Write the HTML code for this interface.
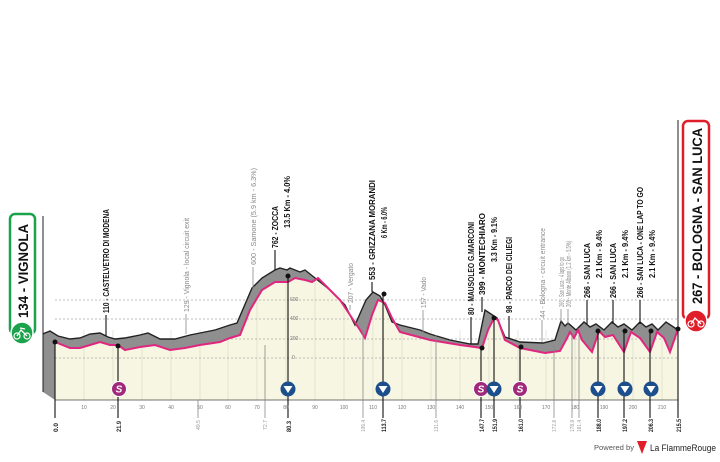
<!DOCTYPE html>
<html><head><meta charset="utf-8"><style>
body{margin:0;background:#fff;}
svg text{font-family:"Liberation Sans Narrow","Liberation Sans",sans-serif;}
</style></head><body>
<svg width="720" height="457" viewBox="0 0 720 457" xmlns="http://www.w3.org/2000/svg">
<path d="M55,342 L70,348 L80,348 L90,345 L100,342 L110,345 L118,345 L125,350 L140,347 L155,345 L170,350 L185,348 L200,345 L220,342 L230,338 L240,335 L250,310 L262,290 L275,282 L288,282 L295,278 L305,280 L312,282 L318,278 L325,285 L340,300 L350,315 L360,330 L365,338 L372,315 L378,300 L385,303 L392,318 L400,332 L430,340 L460,345 L482,348 L488,330 L494,318 L498,320 L505,340 L520,348 L545,353 L560,351 L566,340 L570,332 L574,338 L578,330 L582,340 L592,352 L599,331 L605,337 L613,335 L624,352 L631,332 L640,338 L650,352 L657,332 L664,338 L670,352 L678,329 L678,400 L55,400 Z" fill="#f6f6e2"/>
<g stroke="#d8d8c8" stroke-width="0.6">
<line x1="84" y1="330" x2="84" y2="400"/><line x1="113" y1="330" x2="113" y2="400"/><line x1="142" y1="330" x2="142" y2="400"/><line x1="171" y1="330" x2="171" y2="400"/><line x1="200" y1="330" x2="200" y2="400"/><line x1="228" y1="330" x2="228" y2="400"/><line x1="257" y1="300" x2="257" y2="400"/><line x1="286" y1="280" x2="286" y2="400"/><line x1="315" y1="280" x2="315" y2="400"/><line x1="344" y1="300" x2="344" y2="400"/><line x1="373" y1="300" x2="373" y2="400"/><line x1="402" y1="330" x2="402" y2="400"/><line x1="431" y1="330" x2="431" y2="400"/><line x1="460" y1="330" x2="460" y2="400"/><line x1="489" y1="330" x2="489" y2="400"/><line x1="518" y1="330" x2="518" y2="400"/><line x1="546" y1="330" x2="546" y2="400"/><line x1="575" y1="330" x2="575" y2="400"/><line x1="604" y1="330" x2="604" y2="400"/><line x1="633" y1="330" x2="633" y2="400"/><line x1="662" y1="330" x2="662" y2="400"/>
</g>
<g stroke="#aaa" stroke-width="0.7" stroke-dasharray="2,2">
<line x1="55" y1="300" x2="678" y2="300"/><line x1="55" y1="319" x2="678" y2="319"/><line x1="55" y1="339" x2="678" y2="339"/><line x1="55" y1="358" x2="678" y2="358"/>
</g>
<g font-size="5" fill="#777"><text x="290" y="301">600</text><text x="290" y="320">400</text><text x="290" y="340">200</text><text x="292" y="359">0</text></g>
<path d="M45,333 L50,331 L58,336 L70,339 L80,338 L90,334 L100,333 L108,337 L115,339 L125,338 L140,335 L148,333 L160,339 L175,339 L190,335 L200,333 L215,330 L230,325 L237,323 L252,288 L262,278 L275,270 L280,268 L287,270 L290,268 L300,272 L305,270 L315,278 L330,290 L345,305 L355,325 L366,300 L373,292 L380,296 L385,305 L392,322 L400,325 L420,330 L430,334 L450,340 L470,344 L478,344 L485,310 L497,318 L505,337 L520,342 L543,343 L555,340 L561,321 L565,326 L568,323 L576,330 L584,322 L590,327 L596,324 L604,330 L612,322 L618,327 L624,324 L632,330 L640,322 L646,327 L652,324 L658,330 L666,322 L678,330 L678,329 L670,352 L664,338 L657,332 L650,352 L640,338 L631,332 L624,352 L613,335 L605,337 L599,331 L592,352 L582,340 L578,330 L574,338 L570,332 L566,340 L560,351 L545,353 L520,348 L505,340 L498,320 L494,318 L488,330 L482,348 L460,345 L430,340 L400,332 L392,318 L385,303 L378,300 L372,315 L365,338 L360,330 L350,315 L340,300 L325,285 L318,278 L312,282 L305,280 L295,278 L288,282 L275,282 L262,290 L250,310 L240,335 L230,338 L220,342 L200,345 L185,348 L170,350 L155,345 L140,347 L125,350 L118,345 L110,345 L100,342 L90,345 L80,348 L70,348 L55,342 L55,400 L43,392 L43,334 Z" fill="#8f8f8f"/>
<path d="M43,334 L45,333 L50,331 L58,336 L70,339 L80,338 L90,334 L100,333 L108,337 L115,339 L125,338 L140,335 L148,333 L160,339 L175,339 L190,335 L200,333 L215,330 L230,325 L237,323 L252,288 L262,278 L275,270 L280,268 L287,270 L290,268 L300,272 L305,270 L315,278 L330,290 L345,305 L355,325 L366,300 L373,292 L380,296 L385,305 L392,322 L400,325 L420,330 L430,334 L450,340 L470,344 L478,344 L485,310 L497,318 L505,337 L520,342 L543,343 L555,340 L561,321 L565,326 L568,323 L576,330 L584,322 L590,327 L596,324 L604,330 L612,322 L618,327 L624,324 L632,330 L640,322 L646,327 L652,324 L658,330 L666,322 L678,330" fill="none" stroke="#222" stroke-width="1.4"/>
<path d="M55,342 L70,348 L80,348 L90,345 L100,342 L110,345 L118,345 L125,350 L140,347 L155,345 L170,350 L185,348 L200,345 L220,342 L230,338 L240,335 L250,310 L262,290 L275,282 L288,282 L295,278 L305,280 L312,282 L318,278 L325,285 L340,300 L350,315 L360,330 L365,338 L372,315 L378,300 L385,303 L392,318 L400,332 L430,340 L460,345 L482,348 L488,330 L494,318 L498,320 L505,340 L520,348 L545,353 L560,351 L566,340 L570,332 L574,338 L578,330 L582,340 L592,352 L599,331 L605,337 L613,335 L624,352 L631,332 L640,338 L650,352 L657,332 L664,338 L670,352 L678,329" fill="none" stroke="#e0267f" stroke-width="2"/>
<line x1="43" y1="216" x2="43" y2="392" stroke="#222" stroke-width="1"/>
<line x1="678" y1="120" x2="678" y2="330" stroke="#222" stroke-width="1"/>
<line x1="55" y1="400" x2="678" y2="400" stroke="#444" stroke-width="0.8"/>
<g stroke="#111" stroke-width="1.1">
<line x1="55" y1="342" x2="55" y2="418"/><line x1="118" y1="346" x2="118" y2="418"/><line x1="288" y1="276" x2="288" y2="418"/><line x1="383" y1="294" x2="383" y2="418"/><line x1="481" y1="348" x2="481" y2="418"/><line x1="494" y1="318" x2="494" y2="418"/><line x1="520" y1="347" x2="520" y2="418"/><line x1="598" y1="331" x2="598" y2="418"/><line x1="624" y1="331" x2="624" y2="418"/><line x1="650" y1="331" x2="650" y2="418"/><line x1="678" y1="329" x2="678" y2="418"/>
<line x1="106" y1="336" x2="106" y2="315"/><line x1="275" y1="270" x2="275" y2="250"/><line x1="372" y1="292" x2="372" y2="282"/><line x1="471" y1="344" x2="471" y2="317"/><line x1="482" y1="312" x2="482" y2="297"/><line x1="509" y1="339" x2="509" y2="316"/><line x1="587" y1="324" x2="587" y2="300"/><line x1="613" y1="324" x2="613" y2="300"/><line x1="640" y1="324" x2="640" y2="300"/>
</g>
<g stroke="#888" stroke-width="0.8">
<line x1="186" y1="334" x2="186" y2="314"/><line x1="253" y1="290" x2="253" y2="267"/><line x1="350" y1="310" x2="350" y2="305"/><line x1="423" y1="333" x2="423" y2="310"/><line x1="542" y1="342" x2="542" y2="320"/><line x1="561" y1="322" x2="561" y2="309"/><line x1="568" y1="324" x2="568" y2="309"/>
<line x1="198" y1="400" x2="198" y2="418"/><line x1="265" y1="345" x2="265" y2="418"/><line x1="363" y1="330" x2="363" y2="418"/><line x1="436" y1="335" x2="436" y2="418"/><line x1="554" y1="345" x2="554" y2="418"/><line x1="572" y1="335" x2="572" y2="418"/><line x1="579" y1="335" x2="579" y2="418"/>
</g>
<g fill="#111"><circle cx="55" cy="342" r="2.5"/><circle cx="118" cy="346" r="2.5"/><circle cx="288" cy="276" r="2.5"/><circle cx="384" cy="294" r="2.5"/><circle cx="482" cy="348" r="2.5"/><circle cx="494" cy="318" r="2.5"/><circle cx="521" cy="347" r="2.5"/><circle cx="598" cy="331" r="2.5"/><circle cx="625" cy="331" r="2.5"/><circle cx="651" cy="331" r="2.5"/><circle cx="678" cy="329" r="2.5"/></g>
<g>
<g transform="translate(119,389)"><circle r="7.5" fill="#a0297a" stroke="#fff" stroke-width="1"/><text y="3.5" text-anchor="middle" font-size="10" font-weight="bold" fill="#fff" font-style="italic">S</text></g>
<g transform="translate(481,389)"><circle r="7.5" fill="#a0297a" stroke="#fff" stroke-width="1"/><text y="3.5" text-anchor="middle" font-size="10" font-weight="bold" fill="#fff" font-style="italic">S</text></g>
<g transform="translate(520,389)"><circle r="7.5" fill="#a0297a" stroke="#fff" stroke-width="1"/><text y="3.5" text-anchor="middle" font-size="10" font-weight="bold" fill="#fff" font-style="italic">S</text></g>
</g>
<g fill="#1c4f8c">
<g transform="translate(288,389)"><circle r="7.5"/><path d="M-4.5,-3 L4.5,-3 L0,4 Z" fill="#fff"/></g>
<g transform="translate(383,389)"><circle r="7.5"/><path d="M-4.5,-3 L4.5,-3 L0,4 Z" fill="#fff"/></g>
<g transform="translate(494,389)"><circle r="7.5"/><path d="M-4.5,-3 L4.5,-3 L0,4 Z" fill="#fff"/></g>
<g transform="translate(598,389)"><circle r="7.5"/><path d="M-4.5,-3 L4.5,-3 L0,4 Z" fill="#fff"/></g>
<g transform="translate(625,389)"><circle r="7.5"/><path d="M-4.5,-3 L4.5,-3 L0,4 Z" fill="#fff"/></g>
<g transform="translate(651,389)"><circle r="7.5"/><path d="M-4.5,-3 L4.5,-3 L0,4 Z" fill="#fff"/></g>
</g>
<g font-size="5" fill="#777" text-anchor="middle">
<text x="84" y="409">10</text><text x="113" y="409">20</text><text x="142" y="409">30</text><text x="171" y="409">40</text><text x="200" y="409">50</text><text x="228" y="409">60</text><text x="257" y="409">70</text><text x="286" y="409">80</text><text x="315" y="409">90</text><text x="344" y="409">100</text><text x="373" y="409">110</text><text x="402" y="409">120</text><text x="431" y="409">130</text><text x="460" y="409">140</text><text x="489" y="409">150</text><text x="518" y="409">160</text><text x="546" y="409">170</text><text x="575" y="409">180</text><text x="604" y="409">190</text><text x="633" y="409">200</text><text x="662" y="409">210</text>
</g>
<g font-size="6.5" font-weight="bold" fill="#222">
<text transform="translate(58,432) rotate(-90)" textLength="9" lengthAdjust="spacingAndGlyphs">0.0</text>
<text transform="translate(121,432) rotate(-90)" textLength="11" lengthAdjust="spacingAndGlyphs">21.9</text>
<text transform="translate(291,432) rotate(-90)" textLength="11" lengthAdjust="spacingAndGlyphs">80.3</text>
<text transform="translate(386,432) rotate(-90)" textLength="13" lengthAdjust="spacingAndGlyphs">113.7</text>
<text transform="translate(484,432) rotate(-90)" textLength="13" lengthAdjust="spacingAndGlyphs">147.7</text>
<text transform="translate(497,432) rotate(-90)" textLength="13" lengthAdjust="spacingAndGlyphs">151.9</text>
<text transform="translate(523,432) rotate(-90)" textLength="13" lengthAdjust="spacingAndGlyphs">161.0</text>
<text transform="translate(601,432) rotate(-90)" textLength="13" lengthAdjust="spacingAndGlyphs">188.0</text>
<text transform="translate(627,432) rotate(-90)" textLength="13" lengthAdjust="spacingAndGlyphs">197.2</text>
<text transform="translate(653,432) rotate(-90)" textLength="13" lengthAdjust="spacingAndGlyphs">206.3</text>
<text transform="translate(681,432) rotate(-90)" textLength="13" lengthAdjust="spacingAndGlyphs">215.5</text>
</g>
<g font-size="5.5" fill="#999">
<text transform="translate(200,430) rotate(-90)" textLength="10" lengthAdjust="spacingAndGlyphs">49.5</text>
<text transform="translate(267,430) rotate(-90)" textLength="10" lengthAdjust="spacingAndGlyphs">72.7</text>
<text transform="translate(365,432) rotate(-90)" textLength="12" lengthAdjust="spacingAndGlyphs">106.4</text>
<text transform="translate(438,432) rotate(-90)" textLength="12" lengthAdjust="spacingAndGlyphs">131.6</text>
<text transform="translate(556,432) rotate(-90)" textLength="12" lengthAdjust="spacingAndGlyphs">172.8</text>
<text transform="translate(574,432) rotate(-90)" textLength="12" lengthAdjust="spacingAndGlyphs">178.9</text>
<text transform="translate(581,432) rotate(-90)" textLength="12" lengthAdjust="spacingAndGlyphs">181.4</text>
</g>
<g font-size="8" font-weight="bold" fill="#111" lengthAdjust="spacingAndGlyphs">
<text transform="translate(109,313) rotate(-90)" textLength="104" lengthAdjust="spacingAndGlyphs">110 - CASTELVETRO DI MODENA</text>
<text transform="translate(278,248) rotate(-90)" textLength="42" lengthAdjust="spacingAndGlyphs">762 - ZOCCA</text>
<text transform="translate(290,228) rotate(-90)" textLength="52" lengthAdjust="spacingAndGlyphs">13.5 Km - 4.0%</text>
<text transform="translate(375,280) rotate(-90)" textLength="100" lengthAdjust="spacingAndGlyphs">553 - GRIZZANA MORANDI</text>
<text transform="translate(387,238) rotate(-90)" textLength="31" lengthAdjust="spacingAndGlyphs">6 Km - 6.0%</text>
<text transform="translate(474,315) rotate(-90)" textLength="93" lengthAdjust="spacingAndGlyphs">80 - MAUSOLEO G.MARCONI</text>
<text transform="translate(485,295) rotate(-90)" textLength="82" lengthAdjust="spacingAndGlyphs">399 - MONTECHIARO</text>
<text transform="translate(497,262) rotate(-90)" textLength="45" lengthAdjust="spacingAndGlyphs">3.3 Km - 9.1%</text>
<text transform="translate(512,313) rotate(-90)" textLength="76" lengthAdjust="spacingAndGlyphs">98 - PARCO DEI CILIEGI</text>
<text transform="translate(590,298) rotate(-90)" textLength="55" lengthAdjust="spacingAndGlyphs">266 - SAN LUCA</text>
<text transform="translate(602,278) rotate(-90)" textLength="48" lengthAdjust="spacingAndGlyphs">2.1 Km - 9.4%</text>
<text transform="translate(616,298) rotate(-90)" textLength="55" lengthAdjust="spacingAndGlyphs">266 - SAN LUCA</text>
<text transform="translate(628,278) rotate(-90)" textLength="48" lengthAdjust="spacingAndGlyphs">2.1 Km - 9.4%</text>
<text transform="translate(643,298) rotate(-90)" textLength="111" lengthAdjust="spacingAndGlyphs">266 - SAN LUCA - ONE LAP TO GO</text>
<text transform="translate(655,278) rotate(-90)" textLength="48" lengthAdjust="spacingAndGlyphs">2.1 Km - 9.4%</text>
</g>
<g font-size="7.5" fill="#888">
<text transform="translate(189,312) rotate(-90)" textLength="94" lengthAdjust="spacingAndGlyphs">129 - Vignola - local circuit exit</text>
<text transform="translate(256,265) rotate(-90)" textLength="97" lengthAdjust="spacingAndGlyphs">600 - Samone (5.9 km - 6.3%)</text>
<text transform="translate(353,303) rotate(-90)" textLength="40" lengthAdjust="spacingAndGlyphs">207 - Vergato</text>
<text transform="translate(426,308) rotate(-90)" textLength="31" lengthAdjust="spacingAndGlyphs">157 - Vado</text>
<text transform="translate(545,318) rotate(-90)" textLength="90" lengthAdjust="spacingAndGlyphs">44 - Bologna - circuit entrance</text>
<text transform="translate(564,307) rotate(-90)" textLength="50" lengthAdjust="spacingAndGlyphs">266 - San Luca - 4 laps to go</text>
<text transform="translate(571,307) rotate(-90)" textLength="66" lengthAdjust="spacingAndGlyphs">265 - Monte Albano (1.2 km - 5.5%)</text>
</g>
<rect x="10" y="214" width="25" height="120" rx="5" fill="#fff" stroke="#1aa34a" stroke-width="2.5"/>
<text transform="translate(28,318) rotate(-90)" font-size="14" font-weight="bold" fill="#111" textLength="94" lengthAdjust="spacingAndGlyphs">134 - VIGNOLA</text>
<circle cx="22" cy="333" r="11" fill="#1aa34a" stroke="#fff" stroke-width="1.5"/>
<circle cx="17" cy="336" r="3" fill="none" stroke="#fff" stroke-width="1.2"/><circle cx="27" cy="336" r="3" fill="none" stroke="#fff" stroke-width="1.2"/><path d="M17,336 L21,330 L27,336 M20,328 L25,329" stroke="#fff" stroke-width="1.3" fill="none"/>
<rect x="683" y="121" width="26" height="198" rx="5" fill="#fff" stroke="#e01e2a" stroke-width="2.5"/>
<text transform="translate(702,304) rotate(-90)" font-size="14" font-weight="bold" fill="#111" textLength="176" lengthAdjust="spacingAndGlyphs">267 - BOLOGNA - SAN LUCA</text>
<circle cx="696" cy="321" r="11" fill="#e01e2a" stroke="#fff" stroke-width="1.5"/>
<circle cx="691" cy="324" r="3" fill="none" stroke="#fff" stroke-width="1.2"/><circle cx="701" cy="324" r="3" fill="none" stroke="#fff" stroke-width="1.2"/><path d="M691,324 L695,318 L701,324" stroke="#fff" stroke-width="1.3" fill="none"/>
<text x="594" y="450" font-size="7" fill="#555" textLength="40" lengthAdjust="spacingAndGlyphs">Powered by</text>
<path d="M637,441 L647,441 L642,454 Z" fill="#e01e2a"/>
<text x="650" y="451" font-size="9" fill="#222" textLength="66" lengthAdjust="spacingAndGlyphs">La FlammeRouge</text>
</svg>
</body></html>
